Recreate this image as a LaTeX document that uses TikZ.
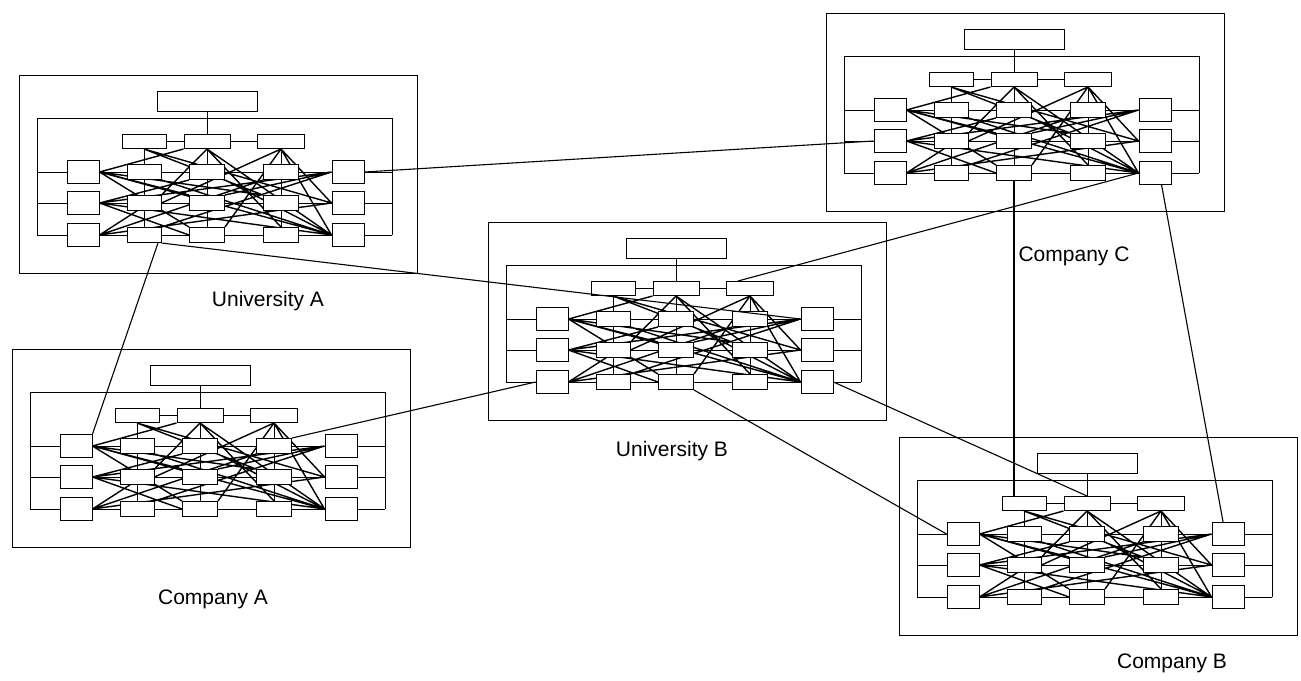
\documentclass[tikz,border=0pt]{standalone}
\usepackage{fontspec}
\setmainfont{Liberation Sans}
\usetikzlibrary{calc,backgrounds}

\tikzset{
  outer/.style={draw, line width=1pt, inner sep=0pt, minimum width=398pt, minimum height=198pt},
  box/.style={draw, fill=white, line width=1pt, inner sep=0pt},
  headbox/.style={box, minimum width=100pt, minimum height=20pt},
  topbox/.style={box, minimum height=14pt},
  side/.style={box, minimum width=32pt, minimum height=23pt},
  mid/.style={box, minimum height=15pt},
  wire/.style={line width=0.9pt},
  mesh/.style={line width=1.4pt},
  link/.style={line width=1.1pt},
  lbl/.style={font=\fontsize{21}{21}\selectfont, inner sep=0pt}
}

% One organisation: outer frame, head unit, three top units,
% a 3x5 grid of units and the web of cross links between them.
\newcommand\orgblock[3]{%
\begin{scope}[shift={(#2,#3)}]
  \node[outer] (#1-out) at (199,99) {};
  \node[headbox] (#1-head) at (188,26) {};
  \coordinate (#1-fl) at (18,43);
  \coordinate (#1-fr) at (373,43);
  \node[topbox, minimum width=44pt] (#1-t1) at (125,66.5) {};
  \node[topbox, minimum width=46pt] (#1-t2) at (188,66.5) {};
  \node[topbox, minimum width=47pt] (#1-t3) at (262,66.5) {};
  \foreach \r/\y in {1/97,2/128,3/160}{
    \node[side] (#1-L\r) at (64,\y) {};
    \node[side] (#1-R\r) at (329,\y) {};
    \node[mid, minimum width=34pt] (#1-a\r) at (125,\y) {};
    \node[mid, minimum width=35pt] (#1-b\r) at (188,\y) {};
    \node[mid, minimum width=35pt] (#1-c\r) at (262,\y) {};
  }
  \begin{pgfonlayer}{background}
  % frame
  \draw[wire] (#1-L3.west -| #1-fl) -- (#1-fl) -- (#1-fr) -- (#1-R3.east -| #1-fr);
  \draw[wire] (#1-head) -- (#1-t2) (#1-t1) -- (#1-t2) (#1-t2) -- (#1-t3);
  \foreach \r in {1,2,3}{
    \draw[wire] (#1-L\r.west -| #1-fl) -- (#1-L\r.west)
      (#1-R\r.east) -- (#1-R\r.east -| #1-fr)
      (#1-L\r) -- (#1-a\r) (#1-a\r) -- (#1-b\r) (#1-b\r) -- (#1-c\r) (#1-c\r) -- (#1-R\r);
  }
  \foreach \c/\t in {a/t1,b/t2,c/t3}{
    \draw[wire] (#1-\t) -- (#1-\c1) (#1-\c1) -- (#1-\c2) (#1-\c2) -- (#1-\c3);
  }
  % cross links
  \draw[mesh]
    (#1-L1.east) -- (#1-t2.south west)
    (#1-L1.east) -- (#1-b2.north west)
    (#1-L1.east) -- (#1-R3.west)
    (#1-L1.east) -- (#1-b3.north west)
    (#1-L1.east) -- (#1-c2.north west)
    (#1-L2.east) -- (#1-b1.south west)
    (#1-L2.east) -- (#1-R1.west)
    (#1-L2.east) -- (#1-R3.west)
    (#1-L2.east) -- (#1-b3.west)
    (#1-L3.east) -- (#1-a2.north east)
    (#1-L3.east) -- (#1-c1.south west)
    (#1-L3.east) -- (#1-R2.west)
    (#1-t1.south) -- (#1-c2.north west)
    (#1-t1.south) -- (#1-R2.west)
    (#1-t2.south) -- (#1-a2.north east)
    (#1-t2.south) -- (#1-R3.west)
    (#1-t2.south) -- (#1-c3.north)
    (#1-t3.south) -- (#1-a2.east)
    (#1-t3.south) -- (#1-b3.north east)
    (#1-t3.south) -- (#1-R2.west)
    (#1-t3.south) -- (#1-R3.west)
    (#1-R1.west) -- (#1-a3.north east)
    (#1-R1.west) -- (#1-b2.north east)
    (#1-R3.west) -- (#1-a1.south east)
    (#1-R3.west) -- (#1-b1.south east);
  \end{pgfonlayer}
\end{scope}}

\begin{document}
\begin{tikzpicture}[x=1pt, y=-1pt]
  \useasboundingbox (0,0) rectangle (1301,680);

  \orgblock{ua}{19}{75}
  \orgblock{ub}{488}{222}
  \orgblock{ca}{12}{349}
  \orgblock{cb}{899}{437}
  \orgblock{cc}{826}{13}

  % links between organisations
  \draw[link] (ua-R1.east) -- (cc-L2.west);
  \draw[link] ($(ua-a3.south)!0.8!(ua-a3.south east)$) -- (ca-L1.north east);
  \draw[link] (ua-a3.south east) -- (ub-R1.west);
  \draw[link] (ub-L3.west) -- (ca-c1.north east);
  \draw[link] ($(ub-t3.north west)!0.25!(ub-t3.north east)$) -- (cc-R3.west);
  \draw[link] (ub-b3.south east) -- (cb-L1.west);
  \draw[link] (ub-R3.east) -- (cb-t2.north);
  \draw[link] (cc-b3.south) -- (cc-b3.south |- cb-t1.north);
  \draw[link] ($(cc-R3.south west)!0.7!(cc-R3.south east)$) -- ($(cb-R1.north west)!0.35!(cb-R1.north east)$);

  % organisation names
  \node[lbl] (ua-name) at (268,301) {University A};
  \node[lbl] (ub-name) at (672,451) {University B};
  \node[lbl] (ca-name) at (213,599) {Company A};
  \node[lbl] (cb-name) at (1172,663) {Company B};
  \node[lbl] (cc-name) at (1074,256) {Company C};
\end{tikzpicture}
\end{document}
